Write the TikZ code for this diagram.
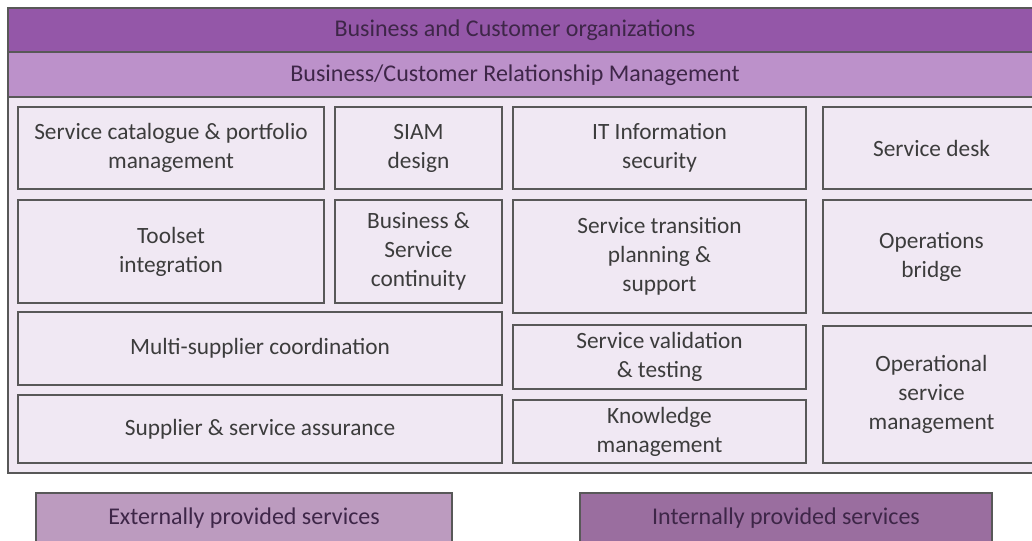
\documentclass[tikz,border=0pt]{standalone}
\usepackage{fontspec}
\setmainfont{Carlito}
\usetikzlibrary{fit}
\definecolor{bandA}{HTML}{9457A8}
\definecolor{bandB}{HTML}{BC91CA}
\definecolor{lav}{HTML}{F0E8F3}
\definecolor{edge}{HTML}{585858}
\definecolor{txt}{HTML}{3C3C3C}
\definecolor{btxt}{HTML}{3E2648}
\definecolor{extc}{HTML}{BC9BBF}
\definecolor{intc}{HTML}{9A6E9F}
\tikzset{
  box/.style={draw=edge, line width=1.5pt, fill=lav, inner sep=0pt},
  boxtxt/.style={inner sep=0pt, align=center, text=txt, font=\fontsize{17.5}{21.75}\selectfont},
  band/.style={draw=edge, line width=1.2pt, inner sep=0pt},
  legend/.style={draw=edge, line width=1.5pt, inner sep=0pt},
  lbl/.style={text=btxt, font=\fontsize{18}{22}\selectfont},
}
\newcommand\mybox[6]{%
  \node[box, fit={(#2,#3)(#4,#5)}] (#1) {};
  \node[boxtxt] (#1-t) at (#1.center) {#6};}
\begin{document}
\begin{tikzpicture}[x=0.75pt,y=-0.75pt]
\useasboundingbox (0,0) rectangle (1032,540);
\fill[white] (0,0) rectangle (1032,540);
\begin{scope}
\clip (0,0) rectangle (1032,540);
\node[box, fit={(8,8)(1045,473)}] (outer) {};
\node[band, fill=bandA, fit={(8,8)(1045,52)}] (org) {};
\node[lbl] at (515,30) {Business and Customer organizations};
\node[band, fill=bandB, fit={(8,52)(1045,97)}] (brm) {};
\node[lbl] at (515,75) {Business/Customer Relationship Management};

\mybox{cat}{18}{107}{324}{189}{Service catalogue \& portfolio\\management}
\mybox{siam}{335}{107}{502}{189}{SIAM\\design}
\mybox{itsec}{513}{107}{806}{189}{IT Information\\security}
\mybox{desk}{823}{107}{1040}{189}{Service desk}

\mybox{tool}{18}{200}{324}{303}{Toolset\\integration}
\mybox{bsc}{335}{200}{502}{303}{Business \&\\Service\\continuity}
\mybox{trans}{513}{200}{806}{313}{Service transition\\planning \&\\support}
\mybox{bridge}{823}{200}{1040}{313}{Operations\\bridge}

\mybox{multi}{18}{312}{502}{385}{Multi-supplier coordination}
\mybox{supp}{18}{395}{502}{463}{Supplier \& service assurance}
\mybox{valid}{513}{325}{806}{389}{Service validation\\\& testing}
\mybox{know}{513}{400}{806}{463}{Knowledge\\management}
\mybox{opsm}{823}{326}{1040}{463}{Operational\\service\\management}

\node[legend, fill=extc, fit={(36,493)(452,545)}] (ext) {};
\node[lbl] at (244,518) {Externally provided services};
\node[legend, fill=intc, fit={(580,493)(992,545)}] (int) {};
\node[lbl] at (786,518) {Internally provided services};
\end{scope}
\end{tikzpicture}
\end{document}
